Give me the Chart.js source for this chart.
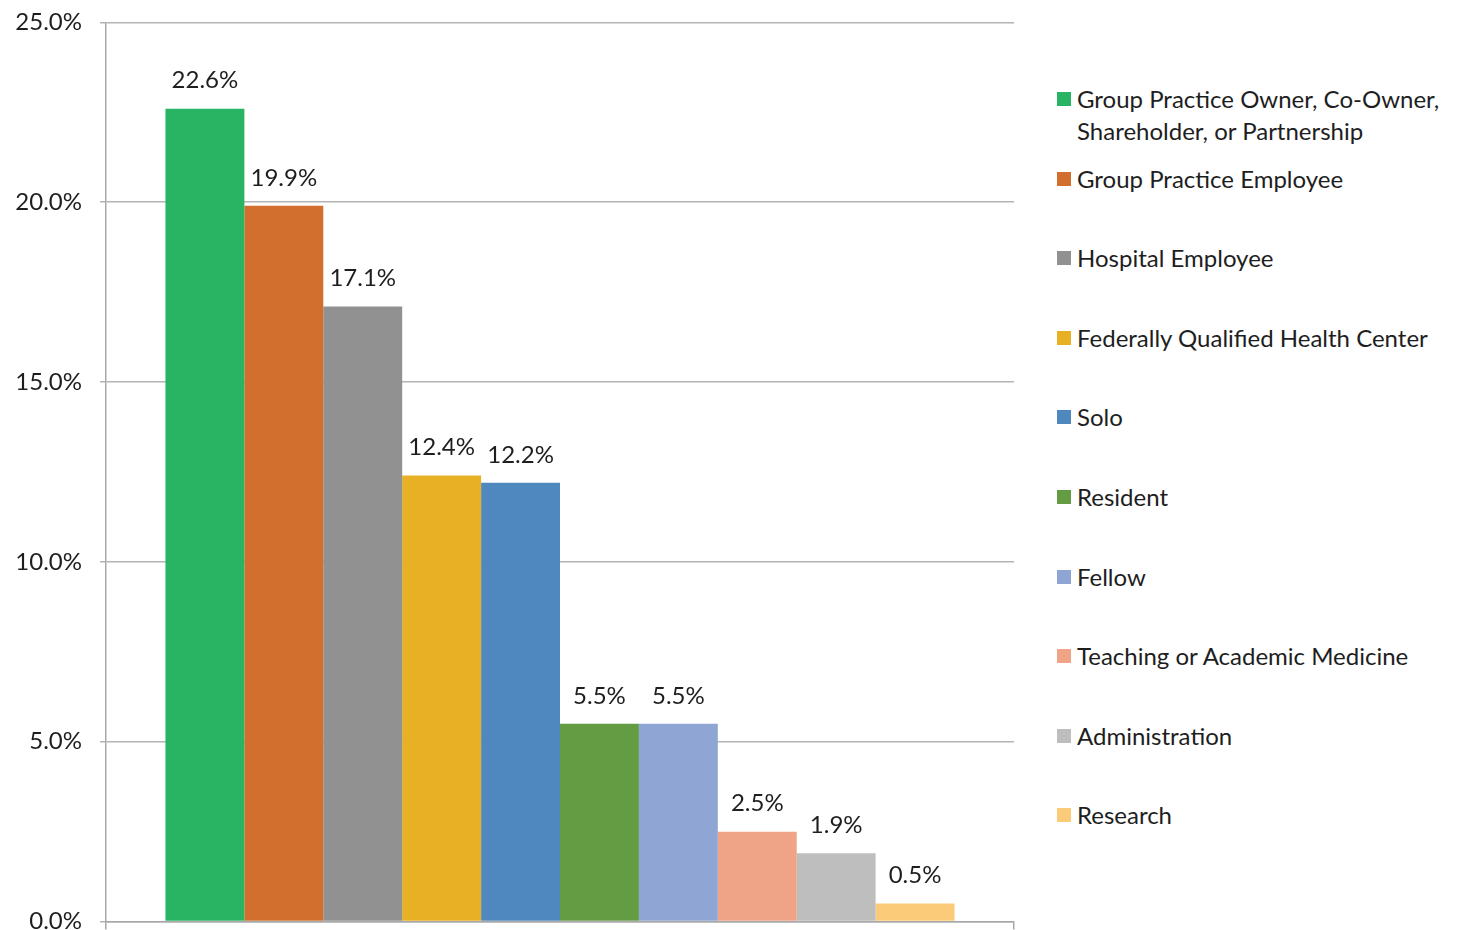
<!DOCTYPE html>
<html>
<head>
<meta charset="utf-8">
<script src="https://cdn.jsdelivr.net/npm/chart.js@4.4.0/dist/chart.umd.min.js"></script>
<style>
    body {
        margin: 0;
        background: #ffffff;
        font-family: "Lato", "Open Sans", sans-serif;
        overflow: hidden;
    }
    #wrap {
        position: relative;
        width: 1460px;
        height: 930px;
        overflow: hidden;
    }
    /* canvas um pouco maior pra area do grafico bater 22 -> 921 */
    #boxGrafico {
        position: absolute;
        left: 0;
        top: -10px;
        width: 1040px;
        height: 964px;
    }
    #legenda {
        position: absolute;
        left: 1057px;
        top: 83px;
        width: 400px;
    }
    .itemLegenda {
        position: relative;
        height: 79.6px;
        font-size: 24px;
        line-height: 32px;
        color: #1e1e1e;
        padding-left: 20px;
        white-space: nowrap;
    }
    .itemLegenda span.cor {
        position: absolute;
        left: 0;
        top: 9px;
        width: 14px;
        height: 14px;
    }
</style>
</head>
<body>
<div id="wrap">
    <div id="boxGrafico"><canvas id="barChart"></canvas></div>
    <div id="legenda"></div>
</div>

<script>
// dados do grafico
const categorias = [
    "Group Practice Owner, Co-Owner, Shareholder, or Partnership",
    "Group Practice Employee",
    "Hospital Employee",
    "Federally Qualified Health Center",
    "Solo",
    "Resident",
    "Fellow",
    "Teaching or Academic Medicine",
    "Administration",
    "Research"
]
const valores = [22.6, 19.9, 17.1, 12.4, 12.2, 5.5, 5.5, 2.5, 1.9, 0.5]
const cores = [
    "#28b463", "#d36f2e", "#919191", "#e8b024", "#4f88bf",
    "#649c44", "#8fa6d5", "#efa487", "#bebebe", "#fccb7a"
]
const ticksY = [0, 5, 10, 15, 20, 25]

// monta um dataset por categoria (barras lado a lado)
var datasets = []
for (let i = 0; i < categorias.length; i++) {
    datasets.push({
        label: categorias[i],
        data: [valores[i]],
        backgroundColor: cores[i],
        borderWidth: 0,
        barPercentage: 1.0,
        categoryPercentage: 0.869
    })
}

// rotulos em cima das barras
const rotulosPlugin = {
    id: 'rotulos',
    afterDatasetsDraw(chart) {
        const ctx = chart.ctx
        ctx.save()
        ctx.font = '24px Lato'
        ctx.fillStyle = '#1e1e1e'
        ctx.textAlign = 'center'
        ctx.textBaseline = 'middle'
        chart.data.datasets.forEach((ds, i) => {
            const barra = chart.getDatasetMeta(i).data[0]
            ctx.fillText(ds.data[0].toFixed(1) + '%', barra.x, barra.y - 28)
        })
        ctx.restore()
    }
}

const config = {
    type: 'bar',
    data: {
        labels: [''],
        datasets: datasets
    },
    options: {
        responsive: true,
        maintainAspectRatio: false,
        animation: false,
        layout: {
            padding: { top: 22, right: 26, bottom: 0, left: 0 }
        },
        plugins: {
            legend: { display: false },
            tooltip: { enabled: false }
        },
        scales: {
            x: {
                grid: {
                    drawOnChartArea: false,
                    drawTicks: true,
                    tickLength: 8,
                    color: '#a8a8a8',
                    lineWidth: 1.5
                },
                border: { color: '#a8a8a8', width: 1.5 },
                ticks: { display: false },
                afterFit: function (scale) {
                    scale.height = 9
                }
            },
            y: {
                min: 0,
                max: 25,
                afterBuildTicks: function (scale) {
                    scale.ticks = ticksY.map(v => ({ value: v }))
                },
                grid: {
                    color: '#b4b4b4',
                    lineWidth: 1.5,
                    tickLength: 6
                },
                border: { color: '#a8a8a8', width: 1.5 },
                ticks: {
                    padding: 18,
                    color: '#1e1e1e',
                    font: { family: 'Lato', size: 24 },
                    callback: function (v) {
                        return Number(v).toFixed(1) + '%'
                    }
                },
                afterFit: function (scale) {
                    scale.width = 106
                }
            }
        }
    },
    plugins: [rotulosPlugin]
}

let myChart = new Chart(document.getElementById('barChart'), config)

// legenda em html, do lado direito
function montarLegenda() {
    var html = ''
    const quebras = { 0: "Group Practice Owner, Co-Owner,<br>Shareholder, or Partnership" }
    for (let i = 0; i < categorias.length; i++) {
        var texto = quebras[i] ? quebras[i] : categorias[i]
        html += '<div class="itemLegenda"><span class="cor" style="background:' + cores[i] + '"></span>' + texto + '</div>'
    }
    document.getElementById('legenda').innerHTML = html
}
montarLegenda()
</script>
</body>
</html>
